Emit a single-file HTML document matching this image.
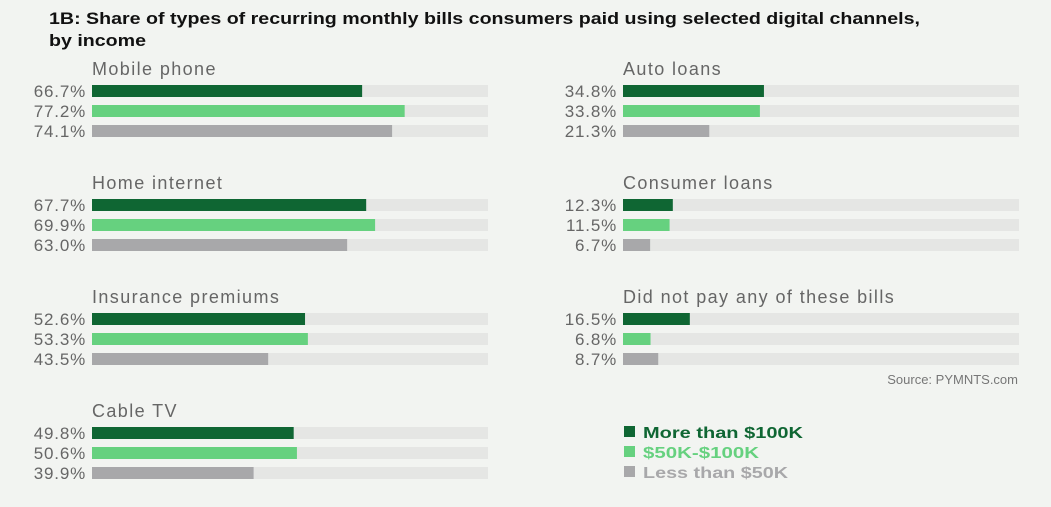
<!DOCTYPE html>
<html><head><meta charset="utf-8"><style>
body{margin:0;background:#f2f4f1;}
svg{display:block;font-family:"Liberation Sans",sans-serif;}
</style></head><body>
<svg width="1051" height="507" viewBox="0 0 1051 507" xmlns="http://www.w3.org/2000/svg">
<rect width="1051" height="507" fill="#f2f4f1"/>
<text x="49" y="24" font-size="17" font-weight="bold" fill="#111" textLength="871" lengthAdjust="spacingAndGlyphs">1B: Share of types of recurring monthly bills consumers paid using selected digital channels,</text>
<text x="49" y="46" font-size="17" font-weight="bold" fill="#111" textLength="97" lengthAdjust="spacingAndGlyphs">by income</text>
<text x="1018" y="384" font-size="13" fill="#777" text-anchor="end">Source: PYMNTS.com</text>
<g id="panels"></g>
<g>
<rect x="624" y="426" width="11" height="11" fill="#0f6633"/>
<text x="643" y="438" font-size="16" font-weight="bold" fill="#0f6633" textLength="160" lengthAdjust="spacingAndGlyphs">More than $100K</text>
<rect x="624" y="446" width="11" height="11" fill="#66d17f"/>
<text x="643" y="458" font-size="16" font-weight="bold" fill="#66d17f" textLength="116" lengthAdjust="spacingAndGlyphs">$50K-$100K</text>
<rect x="624" y="466" width="11" height="11" fill="#a8a8aa"/>
<text x="643" y="478" font-size="16" font-weight="bold" fill="#a8a8aa" textLength="145" lengthAdjust="spacingAndGlyphs">Less than $50K</text>
</g>
</svg>
<script>
const categories = ["Mobile phone","Home internet","Insurance premiums","Cable TV","Auto loans","Consumer loans","Did not pay any of these bills"];
const highIncome = [66.7,67.7,52.6,49.8,34.8,12.3,16.5];
const midIncome = [77.2,69.9,53.3,50.6,33.8,11.5,6.8];
const lowIncome = [74.1,63.0,43.5,39.9,21.3,6.7,8.7];
const colors = ["#0f6633","#66d17f","#a8a8aa"];
const NS = "http://www.w3.org/2000/svg";
const g = document.getElementById('panels');
const scale = 4.05;
function mk(tag, attrs){const e=document.createElementNS(NS,tag);for(const k in attrs)e.setAttribute(k,attrs[k]);return e;}
categories.forEach((cat,i)=>{
  const col = i<4?0:1, row = i<4?i:i-4;
  const x0 = col===0?92:623, y0 = 85+row*114;
  const t = mk('text',{x:x0, y:y0-10, 'font-size':18, 'letter-spacing':1.4, fill:'#666'});
  t.textContent = cat;
  
  
  g.appendChild(t);
  [highIncome[i],midIncome[i],lowIncome[i]].forEach((v,j)=>{
    const y = y0+j*20;
    const tr = mk('rect',{x:x0,y:y,width:396,height:12,fill:'#e5e6e4'});
    
    
    g.appendChild(tr);
    const b = mk('rect',{x:x0,y:y,width:v*scale,height:12,fill:colors[j]});
    
    
    g.appendChild(b);
    const l = mk('text',{x:x0-6,y:y+12,'font-size':17,'letter-spacing':0.8,fill:'#666','text-anchor':'end'});
    l.textContent = v.toFixed(1)+'%';
    
    
    g.appendChild(l);
  });
});
</script>
</body></html>
